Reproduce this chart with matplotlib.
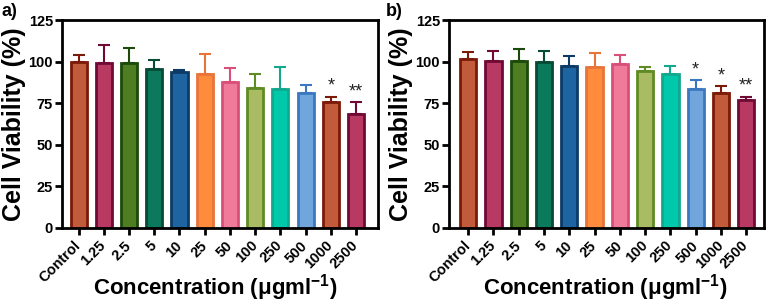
import numpy as np
import matplotlib
matplotlib.use('Agg')
import matplotlib.pyplot as plt
from matplotlib import rcParams

# font setup
rcParams['font.family'] = 'Liberation Sans'
rcParams['font.weight'] = 'bold'
rcParams['mathtext.fontset'] = 'custom'
rcParams['mathtext.rm'] = 'Liberation Sans:bold'
rcParams['mathtext.bf'] = 'Liberation Sans:bold'

# data
concentrations = ['Control', '1.25', '2.5', '5', '10', '25', '50', '100', '250', '500', '1000', '2500']

viability_a = [99.7, 99.2, 99.5, 95.7, 93.7, 92.6, 87.7, 84.4, 83.8, 81.4, 75.9, 68.5]
error_a = [4.3, 10.6, 8.9, 5.1, 1.4, 12.0, 8.5, 8.3, 13.1, 4.3, 3.1, 7.4]
stars_a = ['', '', '', '', '', '', '', '', '', '', '*', '**']

viability_b = [101.5, 100.3, 100.4, 99.7, 97.5, 97.1, 98.5, 94.5, 92.5, 83.3, 80.9, 77.0]
error_b = [4.4, 6.4, 7.1, 6.6, 5.8, 8.4, 5.8, 2.6, 5.0, 5.8, 4.4, 2.0]
stars_b = ['', '', '', '', '', '', '', '', '', '*', '*', '**']

# bar colours
fills = ['#C25A3C', '#B83A62', '#4F7D22', '#0B7A5C', '#1E64A0', '#FF8C3C',
         '#F07A9A', '#A9BC64', '#00C8AA', '#70A6DC', '#C25A3C', '#B83A62']
edges = ['#7B1A08', '#700A35', '#1C4A0A', '#074A35', '#0E3B66', '#E8743A',
         '#D8507A', '#5F8A24', '#12A88E', '#3B78C0', '#7B1A08', '#700A35']


def draw_panel(ax, values, errors, stars, xlim, xlabel_x):
  x = np.arange(len(concentrations))
  for i in x:
    ax.errorbar(x[i], values[i], yerr=[[0], [errors[i]]], fmt='none',
                ecolor=edges[i], elinewidth=1.5, capsize=4.5, capthick=1.5, zorder=1)
  ax.bar(x, values, width=0.64, color=fills, edgecolor=edges, linewidth=2, zorder=2)

  # significance marks
  for i in x:
    if stars[i]:
      ax.text(x[i], values[i] + errors[i] + 1.0, stars[i], ha='center', va='bottom',
              fontsize=13, fontweight='normal', color='#222222')

  ax.set_ylim(0, 125)
  ax.set_yticks([0, 25, 50, 75, 100, 125])
  ax.set_xlim(*xlim)
  ax.set_xticks(x)
  ax.set_xticklabels(concentrations, rotation=45, ha='right', va='center',
                     rotation_mode='anchor')
  ax.tick_params(axis='both', labelsize=10.5, width=2, length=5)
  ax.tick_params(axis='y', pad=1.5)
  ax.tick_params(axis='x', pad=6)

  for s in ax.spines.values():
    s.set_linewidth(2)

  ax.set_ylabel('Cell Viability (%)', fontsize=18, fontweight='bold', labelpad=2)
  ax.set_xlabel('Concentration (μgml$^{-1}$)', fontsize=16, fontweight='bold')
  ax.xaxis.set_label_coords(xlabel_x, -0.212)


fig = plt.figure(figsize=(7.67, 3.05), dpi=100)
ax_a = fig.add_axes([0.0808, 0.2525, 0.412, 0.6815])
ax_b = fig.add_axes([0.5854, 0.2525, 0.4106, 0.6815])

draw_panel(ax_a, viability_a, error_a, stars_a, (-0.66, 11.87), 0.484)
draw_panel(ax_b, viability_b, error_b, stars_b, (-0.76, 11.7), 0.495)

fig.text(0.002, 0.99, 'a)', fontsize=13, fontweight='bold', va='top', ha='left')
fig.text(0.5033, 0.99, 'b)', fontsize=13, fontweight='bold', va='top', ha='left')

fig.savefig('out.png', dpi=100)
